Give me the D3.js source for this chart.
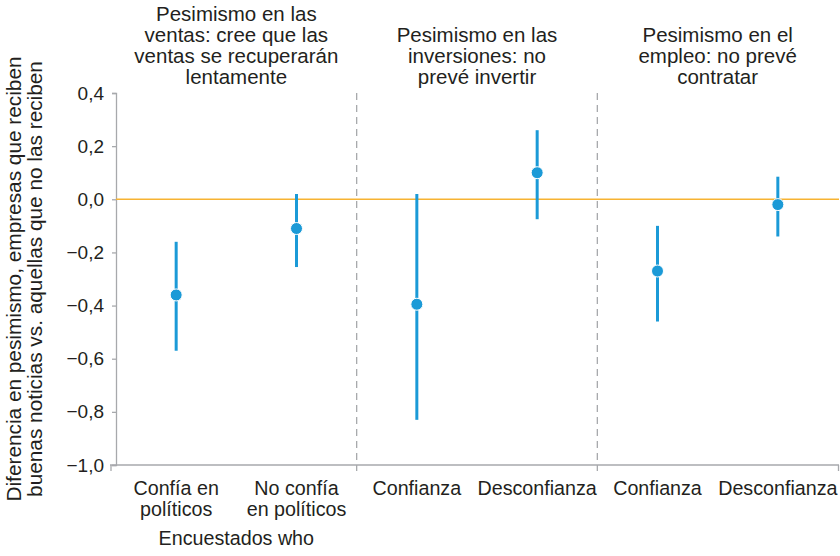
<!DOCTYPE html>
<html>
<head>
<meta charset="utf-8">
<script src="https://cdn.jsdelivr.net/npm/d3@7"></script>
<style>
  body { margin: 0; background: #fff; }
  svg text { font-family: "Liberation Sans Narrow", "Arial Narrow", "Liberation Sans", sans-serif; fill: #231f20; }
</style>
</head>
<body>
<div id="chart"></div>
<script>
var width = 840, height = 556;

// data
var panels = [
  ['Pesimismo en las', 'ventas: cree que las', 'ventas se recuperarán', 'lentamente'],
  ['Pesimismo en las', 'inversiones: no', 'prevé invertir'],
  ['Pesimismo en el', 'empleo: no prevé', 'contratar']
];
var categories = [
  ['Confía en', 'políticos'], ['No confía', 'en políticos'],
  ['Confianza'], ['Desconfianza'],
  ['Confianza'], ['Desconfianza']
];
var estimates = [-0.36, -0.11, -0.395, 0.10, -0.27, -0.02];
var lower = [-0.57, -0.255, -0.83, -0.075, -0.46, -0.14];
var upper = [-0.16, 0.02, 0.02, 0.26, -0.10, 0.085];
var yTicks = [0.4, 0.2, 0.0, -0.2, -0.4, -0.6, -0.8, -1.0];

var margin = { left: 116, right: 2, top: 93, bottom: 91 };

var svg = d3.select('#chart')
  .append('svg')
  .attr('width', width)
  .attr('height', height);

var y = d3.scaleLinear()
  .domain([-1.0, 0.4])
  .range([height - margin.bottom, margin.top]);

var panelX = d3.scaleBand()
  .domain(d3.range(panels.length))
  .range([margin.left, width - margin.right])
  .paddingInner(0).paddingOuter(0);

var x = function(i) {
  var p = Math.floor(i / 2);
  return panelX(p) + panelX.bandwidth() * (i % 2 === 0 ? 0.25 : 0.75);
};

var fmt = function(d) {
  return d3.format('.1f')(d).replace('.', ',').replace('-', '\u2212');
};

// y axis
var yAxis = svg.append('g')
  .attr('transform', 'translate(' + margin.left + ',0)')
  .call(d3.axisLeft(y).tickValues(yTicks).tickSize(4).tickFormat(fmt));
yAxis.select('.domain').attr('stroke', '#a7a9ac').attr('stroke-width', 1.3);
yAxis.selectAll('.tick line').attr('stroke', '#a7a9ac').attr('stroke-width', 1.3);
yAxis.selectAll('.tick text')
  .attr('x', -12)
  .style('font-size', '19px');

// x axis line
var xAxisY = y(-1.0);
svg.append('line')
  .attr('x1', margin.left - 6).attr('x2', width - 1)
  .attr('y1', xAxisY).attr('y2', xAxisY)
  .attr('stroke', '#a7a9ac').attr('stroke-width', 1.3);
[margin.left - 5, width - 1.5].forEach(function(px) {
  svg.append('line')
    .attr('x1', px).attr('x2', px)
    .attr('y1', xAxisY).attr('y2', xAxisY + 6)
    .attr('stroke', '#a7a9ac').attr('stroke-width', 1.3);
});

// panel dividers
d3.range(1, panels.length).forEach(function(p) {
  svg.append('line')
    .attr('x1', panelX(p)).attr('x2', panelX(p))
    .attr('y1', y(0.4)).attr('y2', xAxisY + 6)
    .attr('stroke', '#a7a9ac').attr('stroke-width', 1.3)
    .attr('stroke-dasharray', '7,5');
});

// zero line
svg.append('line')
  .attr('x1', margin.left).attr('x2', width - 1)
  .attr('y1', y(0)).attr('y2', y(0))
  .attr('stroke', '#f7b332').attr('stroke-width', 1.5);

// panel headers
panels.forEach(function(lines, p) {
  var cx = panelX(p) + panelX.bandwidth() / 2;
  var startY = lines.length === 4 ? 21 : 42;
  var t = svg.append('text')
    .attr('text-anchor', 'middle')
    .style('font-size', '20.5px');
  lines.forEach(function(l, k) {
    t.append('tspan').attr('x', cx).attr('y', startY + k * 21).text(l);
  });
});

// error bars
var blue = '#1b9ad7';
svg.selectAll('.ci')
  .data(estimates)
  .enter()
  .append('line')
  .attr('class', 'ci')
  .attr('x1', function(d, i) { return x(i); })
  .attr('x2', function(d, i) { return x(i); })
  .attr('y1', function(d, i) { return y(upper[i]); })
  .attr('y2', function(d, i) { return y(lower[i]); })
  .attr('stroke', blue)
  .attr('stroke-width', 3);

svg.selectAll('.pt')
  .data(estimates)
  .enter()
  .append('circle')
  .attr('class', 'pt')
  .attr('cx', function(d, i) { return x(i); })
  .attr('cy', function(d) { return y(d); })
  .attr('r', 6)
  .attr('fill', blue)
  .attr('stroke', '#fff')
  .attr('stroke-width', 1);

// category labels
categories.forEach(function(lines, i) {
  var t = svg.append('text')
    .attr('text-anchor', 'middle')
    .style('font-size', '19.7px');
  lines.forEach(function(l, k) {
    t.append('tspan').attr('x', x(i)).attr('y', xAxisY + 30 + k * 21).text(l);
  });
});

// x axis title
svg.append('text')
  .attr('x', panelX(0) + panelX.bandwidth() / 2)
  .attr('y', 545)
  .attr('text-anchor', 'middle')
  .style('font-size', '19.7px')
  .text('Encuestados who');

// y axis title
var yt = svg.append('text')
  .attr('transform', 'translate(0,279) rotate(-90)')
  .attr('text-anchor', 'middle')
  .style('font-size', '20.8px');
yt.append('tspan').attr('x', 0).attr('y', 21).text('Diferencia en pesimismo, empresas que reciben');
yt.append('tspan').attr('x', 0).attr('y', 42).text('buenas noticias vs. aquellas que no las reciben');
</script>
</body>
</html>
